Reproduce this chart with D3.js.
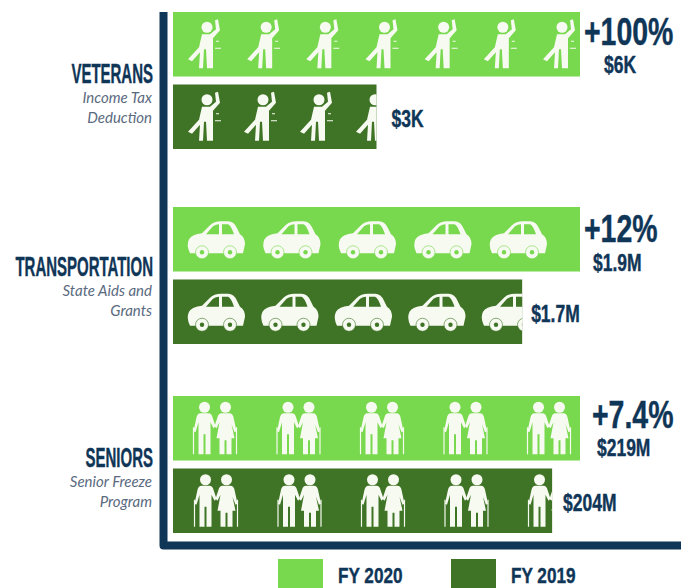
<!DOCTYPE html>
<html>
<head>
<meta charset="utf-8">
<script src="https://cdn.jsdelivr.net/npm/d3@7"></script>
<style>
  html, body { margin: 0; background: #fff; }
  svg { display: block; }
  .cond { font-family: "Liberation Sans Narrow", "Liberation Sans", sans-serif; font-weight: 700; fill: #0f3557; stroke: #0f3557; stroke-width: 0.4px; }
  .sub { font-family: Lato, sans-serif; font-style: italic; font-size: 15px; fill: #5a6a80; text-anchor: end; }
</style>
</head>
<body>
<div id="chart"></div>
<script>
const categories = ["VETERANS", "TRANSPORTATION", "SENIORS"];
const subtitles = [["Income Tax", "Deduction"], ["State Aids and", "Grants"], ["Senior Freeze", "Program"]];
const seriesNames = ["FY 2020", "FY 2019"];
const values2020 = [6, 1.9, 219];
const values2019 = [3, 1.63, 204];
const labels2020 = ["$6K", "$1.9M", "$219M"];
const labels2019 = ["$3K", "$1.7M", "$204M"];
const changes = ["+100%", "+12%", "+7.4%"];
const iconCounts = [7, 5, 5];

const width = 691, height = 588;
const navy = "#0f3557", light = "#78d84e", dark = "#3f7426", paper = "#f6faf0";

// layout only, per category
const barLeft = 173, barRight = 580;
const groupTop = d3.scaleOrdinal().domain(categories).range([12, 207, 396]);
const row = d3.scaleBand().domain(seriesNames).range([0, 137]).paddingInner(0.11);
const colour = d3.scaleOrdinal().domain(seriesNames).range([light, dark]);
const iconRange = {
    VETERANS: [[205, 560], [205, 541]],
    TRANSPORTATION: [[216, 518], [216, 510]],
    SENIORS: [[215, 549], [216, 550]]
};
const changeDx = [4, 4, 12], label20Dx = [24, 13, 17], label19Dx = [15, 9, 11];
const changeDy = [33, 35, 32], label20Dy = [61, 64, 60];

const svg = d3.select("#chart").append("svg").attr("width", width).attr("height", height);

function condText(parent, str, x, y, size, squeeze, anchor) {
    return parent.append("text")
        .attr("class", "cond")
        .attr("transform", `translate(${x},${y}) scale(${squeeze},1)`)
        .attr("text-anchor", anchor || "start")
        .style("font-size", size + "px")
        .text(str);
}

// icons are drawn around (0,0)
function veteran(g) {
    g.append("circle").attr("cx", 2).attr("cy", -17).attr("r", 5.5).attr("fill", paper);
    g.append("path").attr("fill", paper)
        .attr("d", "M-3,-10 L5,-10 L11,-15 L10,-24 L13,-25 L15,-14 L8,-6 L8,24 L2,24 L1,5 L-1,5 L-2,24 L-6,24 L-5,8 L-13,17 L-17,15 L-6,3 Z");
    g.append("path").attr("fill", "none").attr("stroke", paper).attr("stroke-width", 1)
        .attr("d", "M11,-3 H14 M10,4 H16");
}

function car(g, bg) {
    g.append("path").attr("fill", paper)
        .attr("d", "M-26,14 Q-30,6 -27,0 Q-24,-5 -14,-6 L-6,-14 Q-2,-18 5,-18 L12,-18 Q18,-18 21,-11 L24,-5 Q29,-2 29,5 L27,14 Z");
    g.append("path").attr("fill", bg)
        .attr("d", "M-10,-5 L-3,-13 Q0,-15 3,-15 L3,-5 Z M6,-15 L12,-15 Q15,-14 18,-5 L6,-5 Z");
    [-14, 14].forEach(cx => {
        g.append("circle").attr("cx", cx).attr("cy", 13).attr("r", 6.5).attr("fill", paper).attr("stroke", bg).attr("stroke-width", 0.6);
        g.append("circle").attr("cx", cx).attr("cy", 13).attr("r", 2.2).attr("fill", bg);
    });
}

function senior(g, side) {
    // side -1 is the man, side 1 the woman, arms meet in the middle
    const p = g.append("g").attr("transform", `translate(${side * 10.5},0)`);
    p.append("circle").attr("cy", -21).attr("r", 5.5).attr("fill", paper);
    const body = side < 0
        ? "M-4,-15 L4,-15 Q7,-15 8,-11 L11,-2 L9,0 L6,-6 L6,26 L1,26 L1,6 L-1,6 L-1,26 L-6,26 L-6,-6 L-9,4 L-11,3 L-8,-11 Q-7,-15 -4,-15 Z"
        : "M-4,-15 L4,-15 Q7,-15 8,-11 L11,3 L9,4 L6,-4 L9,10 L6,10 L6,26 L1,26 L1,12 L-1,12 L-1,26 L-6,26 L-6,10 L-9,10 L-6,-6 L-9,0 L-11,-2 L-8,-11 Q-7,-15 -4,-15 Z";
    p.append("path").attr("d", body).attr("fill", paper);
    p.append("path").attr("fill", "none").attr("stroke", paper).attr("stroke-width", 1.2)
        .attr("d", `M${side * 11},-1 V26`);
}

const drawIcon = {
    VETERANS: (g) => veteran(g),
    TRANSPORTATION: (g, bg) => car(g, bg),
    SENIORS: (g) => { senior(g, -1); senior(g, 1); }
};

const defs = svg.append("defs");

categories.forEach((cat, i) => {
    const top = groupTop(cat);
    const x = d3.scaleLinear().domain([0, values2020[i]]).range([barLeft, barRight]);
    const g = svg.append("g").attr("class", "group");

    [values2020[i], values2019[i]].forEach((v, j) => {
        const name = seriesNames[j];
        const y = top + row(name);
        const iconX = d3.scaleLinear().domain([0, iconCounts[i] - 1]).range(iconRange[cat][j]);
        g.append("rect")
            .attr("x", barLeft).attr("y", y)
            .attr("width", x(v) - barLeft).attr("height", row.bandwidth())
            .attr("fill", colour(name));

        // the icons stop where the bar stops
        const clipId = `clip-${i}-${j}`;
        defs.append("clipPath").attr("id", clipId).append("rect")
            .attr("x", barLeft).attr("y", y)
            .attr("width", x(v) - barLeft).attr("height", row.bandwidth());
        const icons = g.append("g").attr("clip-path", `url(#${clipId})`);
        d3.range(iconCounts[i]).forEach(k => {
            const ic = icons.append("g")
                .attr("transform", `translate(${iconX(k)},${y + row.bandwidth() / 2})`);
            drawIcon[cat](ic, colour(name));
        });
    });

    // left labels
    const titleY = [83, 276, 467][i];
    condText(g, cat, 153, titleY, 27, 0.555, "end");
    subtitles[i].forEach((s, k) => {
        g.append("text").attr("class", "sub").attr("x", 152).attr("y", titleY + 20 + k * 20).text(s);
    });

    // right labels
    condText(g, changes[i], x(values2020[i]) + changeDx[i], top + changeDy[i], 39, 0.73);
    condText(g, labels2020[i], x(values2020[i]) + label20Dx[i], top + label20Dy[i], 23, 0.76);
    condText(g, labels2019[i], x(values2019[i]) + label19Dx[i], top + row(seriesNames[1]) + 43, 23, 0.76);
});

// axis frame
svg.append("path")
    .attr("d", d3.line()([[163.5, 12], [163.5, 545.5], [681, 545.5]]))
    .attr("fill", "none").attr("stroke", navy).attr("stroke-width", 8).attr("stroke-linejoin", "round");

// legend
const legend = svg.selectAll(".legend").data(seriesNames).enter().append("g").attr("class", "legend");
const legendX = d3.scaleOrdinal().domain(seriesNames).range([278, 451]);
legend.append("rect")
    .attr("x", d => legendX(d)).attr("y", 559)
    .attr("width", 45).attr("height", 29)
    .attr("fill", d => colour(d));
legend.each(function(d) {
    condText(d3.select(this), d, legendX(d) + 60, 583, 22, 0.78);
});
</script>
</body>
</html>
